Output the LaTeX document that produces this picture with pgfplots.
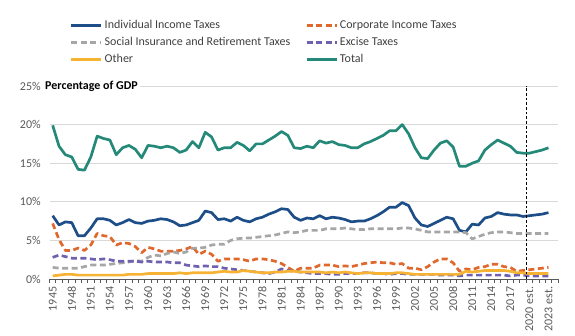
\documentclass[border=0pt]{standalone}
\usepackage{pgfplots}
\pgfplotsset{compat=1.18}
\usepackage{pgfplotstable}
\usepackage{fontspec}
\setmainfont{Carlito}
\definecolor{cInd}{RGB}{30,78,135}
\definecolor{cCorp}{RGB}{224,104,45}
\definecolor{cSoc}{RGB}{166,166,166}
\definecolor{cExc}{RGB}{112,96,176}
\definecolor{cOth}{RGB}{246,178,51}
\definecolor{cTot}{RGB}{36,137,120}
\definecolor{lbl}{RGB}{89,89,89}

\pgfplotstableread{
year ind corp soc exc oth tot
1945 8.2 7.2 1.5 2.8 0.4 19.9
1946 7.0 5.1 1.4 3.1 0.5 17.2
1947 7.4 3.7 1.4 2.9 0.6 16.1
1948 7.3 3.7 1.4 2.7 0.6 15.8
1949 5.6 4.0 1.4 2.7 0.5 14.2
1950 5.6 3.7 1.6 2.7 0.5 14.1
1951 6.6 4.4 1.8 2.6 0.5 15.8
1952 7.8 5.9 1.8 2.5 0.5 18.5
1953 7.8 5.6 1.8 2.6 0.5 18.2
1954 7.6 5.5 1.9 2.5 0.5 18.0
1955 7.0 4.4 2.0 2.3 0.5 16.1
1956 7.3 4.7 2.1 2.3 0.5 17.0
1957 7.7 4.6 2.2 2.3 0.6 17.3
1958 7.3 4.2 2.4 2.3 0.6 16.8
1959 7.2 3.4 2.3 2.2 0.6 15.7
1960 7.5 4.1 2.8 2.3 0.7 17.3
1961 7.6 3.9 3.1 2.2 0.7 17.2
1962 7.8 3.6 3.0 2.2 0.7 17.0
1963 7.7 3.6 3.3 2.2 0.7 17.2
1964 7.4 3.6 3.5 2.1 0.7 17.0
1965 6.9 3.7 3.3 2.1 0.8 16.4
1966 7.0 3.9 3.5 1.8 0.7 16.7
1967 7.3 4.2 4.0 1.7 0.8 17.8
1968 7.6 3.2 4.0 1.6 0.8 17.0
1969 8.8 3.6 4.1 1.7 0.8 19.0
1970 8.6 3.2 4.4 1.6 0.8 18.4
1971 7.7 2.3 4.5 1.6 0.9 16.7
1972 7.8 2.6 4.5 1.4 1.0 17.0
1973 7.5 2.6 5.0 1.3 0.9 17.0
1974 8.0 2.6 5.2 1.2 0.9 17.7
1975 7.6 2.5 5.3 1.1 1.1 17.3
1976 7.4 2.3 5.3 1.0 1.0 16.6
1977 7.8 2.6 5.4 0.9 0.9 17.5
1978 8.0 2.6 5.5 0.8 0.8 17.5
1979 8.4 2.5 5.6 0.7 0.8 18.0
1980 8.7 2.3 5.7 0.9 0.9 18.5
1981 9.1 2.0 5.9 1.3 0.9 19.1
1982 9.0 1.5 6.1 1.1 1.0 18.6
1983 8.0 1.0 6.0 1.0 1.0 17.0
1984 7.6 1.4 6.1 0.9 0.9 16.9
1985 7.9 1.4 6.3 0.8 0.9 17.2
1986 7.8 1.4 6.3 0.7 0.9 17.0
1987 8.2 1.8 6.3 0.7 0.9 17.9
1988 7.8 1.8 6.5 0.7 0.8 17.6
1989 8.0 1.8 6.5 0.6 0.9 17.8
1990 7.9 1.6 6.5 0.6 0.8 17.4
1991 7.7 1.7 6.6 0.7 0.9 17.3
1992 7.4 1.6 6.5 0.7 0.8 17.0
1993 7.5 1.8 6.4 0.7 0.7 17.0
1994 7.5 2.0 6.4 0.8 0.8 17.5
1995 7.8 2.1 6.5 0.8 0.8 17.8
1996 8.2 2.2 6.5 0.7 0.7 18.2
1997 8.7 2.1 6.5 0.7 0.7 18.6
1998 9.3 2.1 6.5 0.6 0.7 19.2
1999 9.3 1.9 6.5 0.7 0.8 19.2
2000 9.9 2.0 6.6 0.7 0.8 20.0
2001 9.5 1.4 6.6 0.6 0.7 18.8
2002 7.9 1.4 6.5 0.6 0.6 17.0
2003 7.0 1.2 6.3 0.6 0.6 15.7
2004 6.8 1.6 6.1 0.6 0.6 15.6
2005 7.2 2.2 6.1 0.6 0.6 16.7
2006 7.6 2.6 6.1 0.5 0.6 17.6
2007 8.0 2.6 6.1 0.5 0.6 17.9
2008 7.8 2.1 6.1 0.5 0.6 17.1
2009 6.3 1.0 6.1 0.4 0.6 14.6
2010 6.1 1.3 6.0 0.5 1.0 14.6
2011 7.1 1.2 5.2 0.5 0.9 15.0
2012 7.0 1.5 5.5 0.5 1.0 15.3
2013 7.9 1.6 5.8 0.5 1.1 16.7
2014 8.1 1.9 6.0 0.5 1.1 17.4
2015 8.6 1.9 6.1 0.5 1.1 18.0
2016 8.4 1.6 6.1 0.5 1.1 17.6
2017 8.3 1.5 6.0 0.4 1.0 17.2
2018 8.3 1.0 5.9 0.5 0.8 16.4
2019 8.1 1.1 5.9 0.5 0.8 16.3
2020 8.2 1.2 5.9 0.4 0.7 16.3
2021 8.3 1.3 5.9 0.4 0.7 16.5
2022 8.4 1.4 5.9 0.4 0.7 16.7
2023 8.6 1.5 5.9 0.4 0.7 17.0
}\datatable

\begin{document}
\begin{tikzpicture}[x=1pt,y=1pt]
\useasboundingbox (0,0) rectangle (575,336);
\begin{axis}[
  at={(49.5pt,57pt)}, anchor=south west,
  scale only axis, width=508.5pt, height=193pt,
  xmin=1944.5, xmax=2024.5, ymin=0, ymax=25,
  clip mode=individual,
  axis x line*=bottom, axis y line*=left,
  y axis line style={draw=none},
  ytick style={draw=none},
  ytick={0,5,10,15,20,25},
  yticklabels={0\%,5\%,10\%,15\%,20\%,25\%},
  yticklabel style={font=\fontsize{12}{14}\selectfont, text=lbl, xshift=-1pt},
  ymajorgrids, grid style={draw=black!15, line width=0.8pt},
  xtick={1945,1948,...,2023},
  xticklabels={1945,1948,1951,1954,1957,1960,1963,1966,1969,1972,1975,1978,1981,1984,1987,1990,1993,1996,1999,2002,2005,2008,2011,2014,2017,2020 est.,2023 est.},
  xticklabel style={rotate=90, anchor=east, font=\fontsize{12}{14}\selectfont, text=lbl, xshift=0pt},
  minor xtick={1944.5,1945.5,...,2024.5},
  major x tick style={draw=none},
  tick align=outside,
  minor tick length=4pt,
  x axis line style={draw=black!65, line width=0.8pt, -},
  minor x tick style={draw=black!65, line width=0.8pt},
  /pgf/number format/assume math mode=true,
  legend columns=2,
  legend cell align=left,
  legend image code/.code={\draw[#1] (0pt,0pt) -- (30pt,0pt);},
  legend style={at={(axis description cs:0.040,1.35)}, anchor=north west,
    draw=none, fill=none, inner sep=0pt,
    font=\fontsize{12}{14}\selectfont, text=black!75,
    row sep=3pt,
    /tikz/every even column/.append style={column sep=13pt}},
  every axis plot/.append style={line width=2.7pt, line join=round},
]
\addplot[cInd, no markers] table[x=year, y=ind] {\datatable};
\addlegendentry{Individual Income Taxes}
\addplot[cCorp, no markers, dash pattern=on 6pt off 3.5pt] table[x=year, y=corp] {\datatable};
\addlegendentry{Corporate Income Taxes}
\addplot[cSoc, no markers, dash pattern=on 6pt off 3.5pt] table[x=year, y=soc] {\datatable};
\addlegendentry{Social Insurance and Retirement Taxes}
\addplot[cExc, no markers, dash pattern=on 6pt off 3.5pt] table[x=year, y=exc] {\datatable};
\addlegendentry{Excise Taxes}
\addplot[cOth, no markers] table[x=year, y=oth] {\datatable};
\addlegendentry{Other}
\addplot[cTot, no markers] table[x=year, y=tot] {\datatable};
\addlegendentry{Total}
\addplot[black, dotted, line width=0.8pt, forget plot] coordinates {(2019.5,0) (2019.5,25)};
\node[anchor=west, fill=white, inner sep=2pt, font=\bfseries\fontsize{12}{14}\selectfont]
  at (rel axis cs:0,1) [xshift=-6.5pt] {Percentage of GDP};
\end{axis}
\end{tikzpicture}
\end{document}
